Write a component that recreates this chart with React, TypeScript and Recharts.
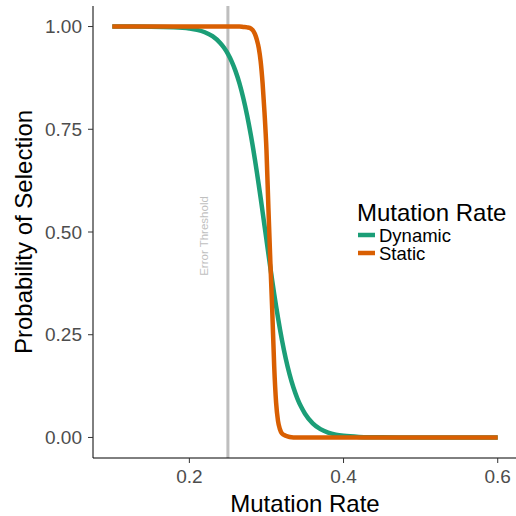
import React from 'react';
import { LineChart, Line, XAxis, YAxis, ReferenceLine } from 'recharts';

const mutationRates = [
  0.10, 0.15, 0.18, 0.20, 0.21, 0.22, 0.23, 0.24, 0.245, 0.25, 0.255, 0.26, 0.265, 0.27, 0.275,
  0.28, 0.285, 0.2875, 0.29, 0.2925, 0.295, 0.2975, 0.30, 0.3025, 0.305, 0.3075, 0.31, 0.3125,
  0.315, 0.3175, 0.32, 0.325, 0.33, 0.335, 0.34, 0.345, 0.35, 0.36, 0.37, 0.38, 0.39, 0.40,
  0.42, 0.45, 0.50, 0.55, 0.60,
];

const dynamicValues = [
  1.0, 0.9997, 0.9984, 0.9953, 0.992, 0.9862, 0.9766, 0.9601, 0.9484, 0.9335, 0.9145, 0.8909, 0.8617, 0.8255, 0.783,
  0.7332, 0.6768, 0.6464, 0.6147, 0.5823, 0.5488, 0.515, 0.481, 0.4472, 0.4139, 0.3814, 0.3498, 0.3197,
  0.2909, 0.2636, 0.2381, 0.1923, 0.1536, 0.1215, 0.0953, 0.0745, 0.0578, 0.0342, 0.0202, 0.0119, 0.0069, 0.004,
  0.0014, 0.0003, 0.0, 0.0, 0.0,
];

const staticValues = [
  1.0, 1.0, 1.0, 1.0, 1.0, 1.0, 1.0, 1.0, 1.0, 1.0, 1.0, 1.0, 1.0, 0.999, 0.998,
  0.995, 0.982, 0.968, 0.948, 0.915, 0.862, 0.79, 0.70, 0.56, 0.43, 0.31, 0.175, 0.085,
  0.04, 0.02, 0.01, 0.004, 0.001, 0.0, 0.0, 0.0, 0.0, 0.0, 0.0, 0.0, 0.0, 0.0,
  0.0, 0.0, 0.0, 0.0, 0.0,
];

const xTicks = [0.2, 0.4, 0.6];
const yTicks = [0, 0.25, 0.5, 0.75, 1];
const threshold = 0.25;

const seriesNames = ['Dynamic', 'Static'];
const seriesColors = ['#1b9e77', '#d95f02'];

const rows = mutationRates.map((x, i) => ({
  x,
  dynamic: dynamicValues[i],
  static: staticValues[i],
}));

const FONT = '"Liberation Sans", Arial, Helvetica, sans-serif';

const ThresholdLabel = (props: any) => {
  const vb = props.viewBox || { x: 228 };
  const x = vb.x - 20;
  const y = 236;
  return (
    <text
      x={x}
      y={y}
      transform={`rotate(-90, ${x}, ${y})`}
      textAnchor="middle"
      fontSize={11.5}
      fontFamily={FONT}
      fill="#bfbfbf"
    >
      Error Threshold
    </text>
  );
};

export default function App() {
  return (
    <div style={{ position: 'fixed', left: 0, top: 0, width: 516, height: 516, overflow: 'hidden', background: '#fff' }}>
      <LineChart width={520} height={516} data={rows} margin={{ top: 6, right: 3, bottom: 0, left: 0 }}>
        <XAxis
          type="number"
          dataKey="x"
          domain={[0.075, 0.625]}
          ticks={xTicks}
          allowDataOverflow
          tickFormatter={(v: number) => v.toFixed(1)}
          height={58}
          axisLine={{ stroke: '#000', strokeWidth: 1 }}
          tickLine={{ stroke: '#333', strokeWidth: 1 }}
          tickSize={5}
          tickMargin={7}
          tick={{ fill: '#4d4d4d', fontSize: 19, fontFamily: FONT }}
        />
        <YAxis
          type="number"
          domain={[-0.05, 1.05]}
          ticks={yTicks}
          allowDataOverflow
          tickFormatter={(v: number) => v.toFixed(2)}
          width={93}
          axisLine={{ stroke: '#000', strokeWidth: 1 }}
          tickLine={{ stroke: '#333', strokeWidth: 1 }}
          tickSize={5}
          tickMargin={6}
          tick={{ fill: '#4d4d4d', fontSize: 19, fontFamily: FONT }}
        />
        <ReferenceLine x={threshold} stroke="#bebebe" strokeWidth={3} label={ThresholdLabel} />
        <Line
          type="monotone"
          dataKey="dynamic"
          name={seriesNames[0]}
          stroke={seriesColors[0]}
          strokeWidth={4.5}
          dot={false}
          activeDot={false}
          isAnimationActive={false}
        />
        <Line
          type="monotone"
          dataKey="static"
          name={seriesNames[1]}
          stroke={seriesColors[1]}
          strokeWidth={4.5}
          dot={false}
          activeDot={false}
          isAnimationActive={false}
        />
      </LineChart>
      <svg
        width={516}
        height={516}
        style={{ position: 'absolute', left: 0, top: 0, pointerEvents: 'none' }}
      >
        <text x={305} y={512} textAnchor="middle" fontSize={24} fontFamily={FONT} fill="#000">
          Mutation Rate
        </text>
        <text
          x={31.5}
          y={232}
          transform="rotate(-90, 31.5, 232)"
          textAnchor="middle"
          fontSize={24}
          fontFamily={FONT}
          fill="#000"
        >
          Probability of Selection
        </text>
        <text x={357} y={221} fontSize={24} fontFamily={FONT} fill="#000">
          Mutation Rate
        </text>
        {seriesNames.map((name, i) => (
          <g key={name}>
            <line
              x1={358}
              x2={375}
              y1={235 + i * 18}
              y2={235 + i * 18}
              stroke={seriesColors[i]}
              strokeWidth={4.5}
            />
            <text x={379} y={242 + i * 18} fontSize={18.5} fontFamily={FONT} fill="#000">
              {name}
            </text>
          </g>
        ))}
      </svg>
    </div>
  );
}
